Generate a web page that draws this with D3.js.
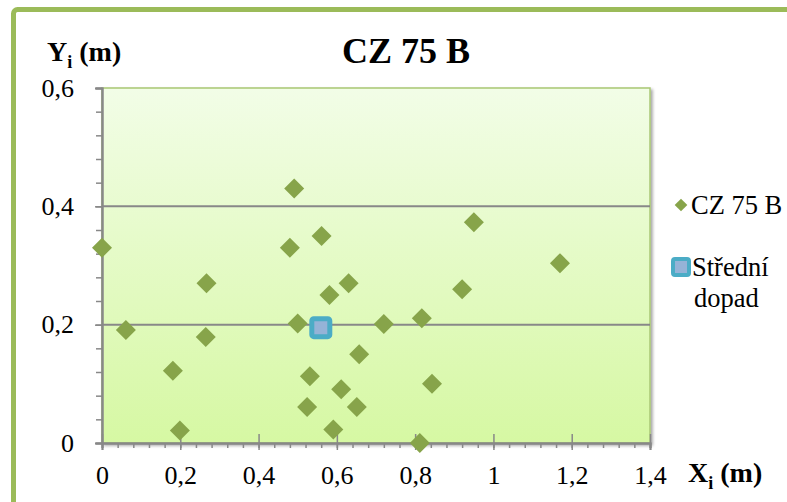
<!DOCTYPE html>
<html>
<head>
<meta charset="utf-8">
<script src="https://cdn.jsdelivr.net/npm/d3@7"></script>
<style>
    body { margin: 0; background: #fff; }
    text { font-family: "Liberation Serif", "Times New Roman", serif; fill: #000; }
</style>
</head>
<body>
<script>
const width = 787;
const height = 502;

// shot positions (m)
const xValues = [0, 0.061, 0.181, 0.199, 0.267, 0.265, 0.491, 0.480, 0.500, 0.561, 0.581, 0.531, 0.524,
    0.591, 0.611, 0.630, 0.657, 0.651, 0.720, 0.817, 0.812, 0.843, 0.920, 0.950, 1.170];
const yValues = [0.330, 0.191, 0.122, 0.021, 0.270, 0.179, 0.430, 0.330, 0.202, 0.350, 0.250, 0.113, 0.061,
    0.023, 0.091, 0.270, 0.150, 0.061, 0.201, 0.211, 0, 0.100, 0.260, 0.373, 0.304];
const meanX = [0.559];
const meanY = [0.195];

const xTicks = [0, 0.2, 0.4, 0.6, 0.8, 1, 1.2, 1.4];
const yTicks = [0, 0.2, 0.4, 0.6];
const minorStep = 0.04;

const title = 'CZ 75 B';
const seriesName = 'CZ 75 B';
const meanName = ['Střední', 'dopad'];

const margin = { top: 88, right: 137, bottom: 59, left: 102 };

const locale = d3.formatLocale({ decimal: ',', thousands: ' ', grouping: [3], currency: ['', ''] });
const fmt = locale.format('.1~f');

const x = d3.scaleLinear()
    .domain([0, 1.4])
    .range([margin.left, width - margin.right]);

const y = d3.scaleLinear()
    .domain([0, 0.6])
    .range([height - margin.bottom, margin.top]);

const svg = d3.select('body')
    .append('svg')
    .attr('width', width)
    .attr('height', height);

const defs = svg.append('defs');

const grad = defs.append('linearGradient')
    .attr('id', 'plotFill')
    .attr('x1', 0).attr('y1', 0)
    .attr('x2', 0).attr('y2', 1);
grad.append('stop').attr('offset', '0%').attr('stop-color', '#f2fde7');
grad.append('stop').attr('offset', '100%').attr('stop-color', '#d6f8a3');

defs.append('filter')
    .attr('id', 'shadow')
    .attr('x', '-5%').attr('y', '-5%')
    .attr('width', '110%').attr('height', '110%')
    .append('feDropShadow')
    .attr('dx', 2).attr('dy', 2)
    .attr('stdDeviation', 1.5)
    .attr('flood-color', '#000')
    .attr('flood-opacity', 0.35);

// outer chart frame (runs off the right and bottom edge)
svg.append('rect')
    .attr('x', 13.5)
    .attr('y', 9.5)
    .attr('width', 820)
    .attr('height', 540)
    .attr('rx', 4)
    .attr('fill', 'none')
    .attr('stroke', '#9bbb59')
    .attr('stroke-width', 5);

// plot area
svg.append('rect')
    .attr('x', x(0))
    .attr('y', y(0.6))
    .attr('width', x(1.4) - x(0))
    .attr('height', y(0) - y(0.6))
    .attr('fill', 'url(#plotFill)')
    .attr('stroke', '#a9c774')
    .attr('stroke-width', 1.5)
    .attr('filter', 'url(#shadow)');

// gridlines
svg.append('g')
    .selectAll('line')
    .data(yTicks.filter(d => d > 0 && d < 0.6))
    .join('line')
    .attr('x1', x(0))
    .attr('x2', x(1.4))
    .attr('y1', d => y(d))
    .attr('y2', d => y(d))
    .attr('stroke', '#888')
    .attr('stroke-width', 2);

const minorX = d3.range(0, Math.round(1.4 / minorStep) + 1).map(i => i * minorStep);
const minorY = d3.range(0, Math.round(0.6 / minorStep) + 1).map(i => i * minorStep);

// minor ticks
svg.append('g')
    .attr('class', 'minor')
    .attr('transform', `translate(0,${y(0)})`)
    .call(d3.axisBottom(x).tickValues(minorX).tickSize(5).tickFormat(''));

svg.append('g')
    .attr('class', 'minor')
    .attr('transform', `translate(${x(0)},0)`)
    .call(d3.axisLeft(y).tickValues(minorY).tickSize(6).tickFormat(''));

// major axes
const xAxis = svg.append('g')
    .attr('id', 'x-axis')
    .attr('transform', `translate(0,${y(0)})`)
    .call(d3.axisBottom(x).tickValues(xTicks).tickSize(7).tickPadding(16).tickFormat(fmt));

xAxis.selectAll('.tick line').attr('y1', -9);

const yAxis = svg.append('g')
    .attr('id', 'y-axis')
    .attr('transform', `translate(${x(0)},0)`)
    .call(d3.axisLeft(y).tickValues(yTicks).tickSize(7).tickPadding(21).tickFormat(fmt));

svg.selectAll('.domain').attr('stroke', '#888').attr('stroke-width', 2);
svg.selectAll('.tick line').attr('stroke', '#888').attr('stroke-width', 1.5);
svg.selectAll('.tick text')
    .style('font-family', '"Liberation Serif", "Times New Roman", serif')
    .style('font-size', '26px')
    .attr('fill', '#000');

// points
const marks = xValues.map((d, i) => ({ x: x(d), y: y(yValues[i]) }));

svg.append('g')
    .selectAll('path')
    .data(marks)
    .join('path')
    .attr('transform', d => `translate(${d.x},${d.y}) rotate(45)`)
    .attr('d', d3.symbol().type(d3.symbolSquare).size(200))
    .attr('fill', '#87a44a');

// mean point of impact
svg.append('g')
    .selectAll('rect')
    .data(meanX.map((d, i) => ({ x: x(d), y: y(meanY[i]) })))
    .join('rect')
    .attr('x', d => d.x - 9)
    .attr('y', d => d.y - 9)
    .attr('width', 18)
    .attr('height', 18)
    .attr('rx', 2)
    .attr('fill', '#95b3d7')
    .attr('stroke', '#4bacc6')
    .attr('stroke-width', 5);

// title
svg.append('text')
    .attr('x', 406)
    .attr('y', 63)
    .attr('text-anchor', 'middle')
    .style('font-size', '36px')
    .style('font-weight', 'bold')
    .text(title);

// axis labels with subscript
const axisLabel = (letter, lx, ly) => {
    const t = svg.append('text')
        .attr('x', lx)
        .attr('y', ly)
        .style('font-size', '28px')
        .style('font-weight', 'bold');
    t.append('tspan').text(letter);
    t.append('tspan').attr('dy', 7).style('font-size', '18px').text('i');
    t.append('tspan').attr('dy', -7).text(' (m)');
};

axisLabel('Y', 47, 61);
axisLabel('X', 688, 482);

// legend
const legend = svg.append('g').attr('id', 'legend');

legend.append('path')
    .attr('transform', 'translate(681,205) rotate(45)')
    .attr('d', d3.symbol().type(d3.symbolSquare).size(80))
    .attr('fill', '#87a44a');

legend.append('text')
    .attr('x', 691)
    .attr('y', 214)
    .style('font-size', '26.5px')
    .text(seriesName);

legend.append('rect')
    .attr('x', 673)
    .attr('y', 259)
    .attr('width', 16)
    .attr('height', 16)
    .attr('rx', 2)
    .attr('fill', '#95b3d7')
    .attr('stroke', '#4bacc6')
    .attr('stroke-width', 4);

legend.append('text')
    .selectAll('tspan')
    .data(meanName)
    .join('tspan')
    .attr('x', (d, i) => i === 0 ? 692 : 694)
    .attr('y', (d, i) => 276 + i * 31)
    .style('font-size', '26.5px')
    .text(d => d);
</script>
</body>
</html>
